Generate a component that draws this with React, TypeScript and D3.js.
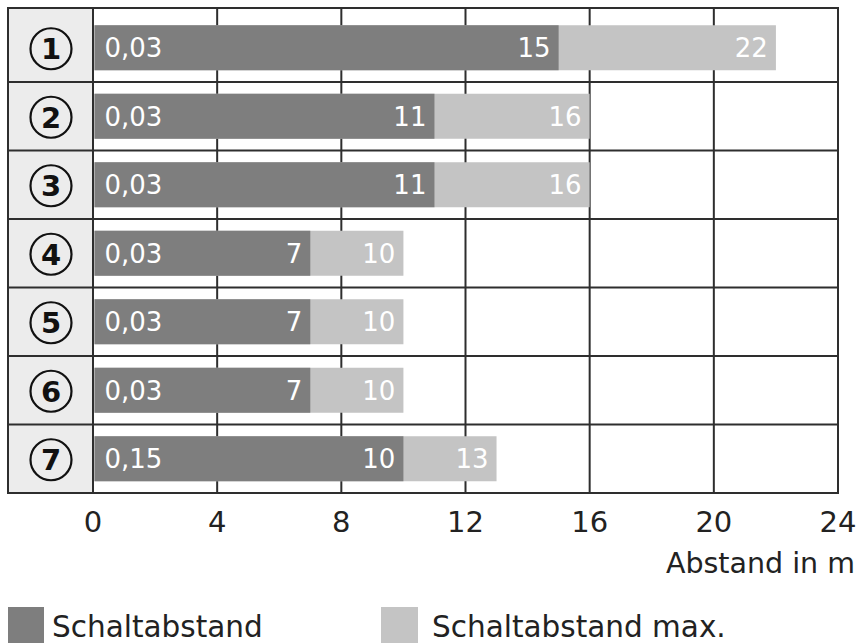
import React from "react";
import * as d3 from "d3";

const rows = ["1", "2", "3", "4", "5", "6", "7"];
const minLabels = ["0,03", "0,03", "0,03", "0,03", "0,03", "0,03", "0,15"];
const schaltabstand = [15, 11, 11, 7, 7, 7, 10];
const schaltabstandMax = [22, 16, 16, 10, 10, 10, 13];
const xTicks = [0, 4, 8, 12, 16, 20, 24];
const legendLabels = ["Schaltabstand", "Schaltabstand max."];
const axisTitle = "Abstand in m";

const W = 860;
const H = 643;
const frameLeft = 8;
const frameTop = 8;
const frameBottom = 493;
const DARK = "#7e7e7e";
const LIGHT = "#c4c4c4";
const GRID = "#2e2e2e";
const CELL = "#ececec";
const FONT = "'DejaVu Sans', sans-serif";

export default function App() {
  const x = d3.scaleLinear().domain([0, 24]).range([93, 838]);
  const y = d3.scaleBand<string>().domain(rows).range([13.5, frameBottom]).paddingInner(0).paddingOuter(0);
  const bw = y.bandwidth();
  const barH = 45;
  const rowTop = (i: number) => (i === 0 ? frameTop : (y(rows[i]) as number));
  const centerOf = (i: number) => (y(rows[i]) as number) + bw / 2;

  return (
    <svg width={W} height={H} style={{ position: "absolute", left: 0, top: 0, background: "#fff" }} fontFamily={FONT}>
      {/* left label cells */}
      <rect x={frameLeft} y={frameTop} width={x(0) - frameLeft} height={frameBottom - frameTop} fill={CELL} />
      {/* vertical grid */}
      {xTicks.map((t) => (
        <line key={"v" + t} x1={x(t)} x2={x(t)} y1={frameTop} y2={frameBottom} stroke={GRID} strokeWidth={2} />
      ))}
      {/* horizontal row lines */}
      {rows.map((r, i) => (
        <line key={"h" + r} x1={frameLeft} x2={x(24)} y1={rowTop(i)} y2={rowTop(i)} stroke={GRID} strokeWidth={2} />
      ))}
      <rect x={frameLeft} y={frameTop} width={x(24) - frameLeft} height={frameBottom - frameTop} fill="none" stroke={GRID} strokeWidth={2} />
      {/* bars */}
      {rows.map((r, i) => {
        const c = centerOf(i);
        const y0 = c - barH / 2;
        const x0 = x(0) + 1.5;
        return (
          <g key={"b" + r}>
            <rect x={x0} y={y0} width={x(schaltabstandMax[i]) - x0} height={barH} fill={LIGHT} />
            <rect x={x0} y={y0} width={x(schaltabstand[i]) - x0} height={barH} fill={DARK} />
            <text x={x0 + 10} y={c + 9.5} fill="#fff" fontSize={26}>{minLabels[i]}</text>
            <text x={x(schaltabstand[i]) - 8} y={c + 9.5} fill="#fff" fontSize={26} textAnchor="end">{schaltabstand[i]}</text>
            <text x={x(schaltabstandMax[i]) - 8} y={c + 9.5} fill="#fff" fontSize={26} textAnchor="end">{schaltabstandMax[i]}</text>
            <circle cx={(frameLeft + x(0)) / 2 + 0.5} cy={c + 1} r={20.5} fill="none" stroke="#111" strokeWidth={2.2} />
            <text x={(frameLeft + x(0)) / 2 + 0.5} y={c + 11.5} fontSize={29} fontWeight="bold" fill="#111" textAnchor="middle">{r}</text>
          </g>
        );
      })}
      {/* x tick labels */}
      {xTicks.map((t) => (
        <text key={"t" + t} x={x(t)} y={532} fontSize={29} fill="#222" textAnchor="middle">{t}</text>
      ))}
      <text x={855} y={573} fontSize={28.5} fill="#222" textAnchor="end">{axisTitle}</text>
      {/* legend */}
      <rect x={8} y={607} width={36} height={40} fill={DARK} />
      <text x={52} y={637} fontSize={29.5} fill="#222">{legendLabels[0]}</text>
      <rect x={381} y={607} width={37} height={40} fill={LIGHT} />
      <text x={432} y={637} fontSize={29.5} fill="#222">{legendLabels[1]}</text>
    </svg>
  );
}
